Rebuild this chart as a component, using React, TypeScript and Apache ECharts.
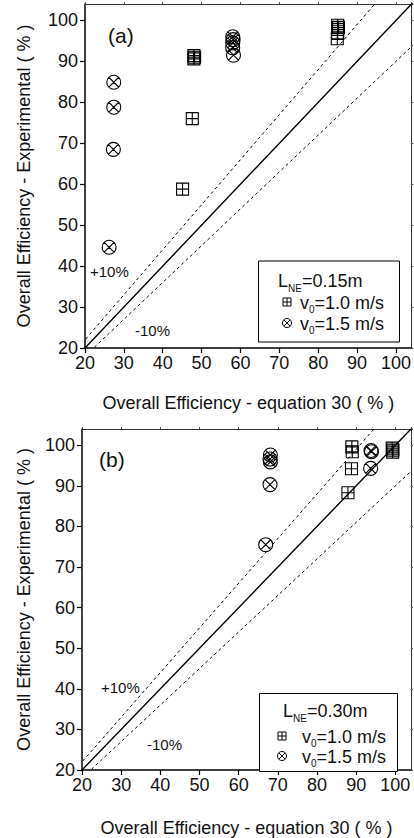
import React, { useEffect, useRef } from 'react';
import * as echarts from 'echarts';

// ---------- data ----------
const axisMin = 20;
const axisMax = 104;
const tickStep = 10;

// panel (a)  L_NE = 0.15 m
const squaresA: number[][] = [
  [45.1, 58.8], [47.6, 76.0], [48.0, 90.6], [48.2, 91.0], [48.0, 91.4],
  [85.0, 98.8], [85.2, 98.3], [85.0, 97.8], [85.0, 96.8], [84.9, 95.5],
];
const circlesA: number[][] = [
  [27.4, 84.9], [27.4, 78.8], [27.3, 68.5], [26.2, 44.6],
  [58.0, 96.0], [58.1, 95.3], [58.0, 94.5], [58.0, 93.3], [58.2, 91.5],
];
// panel (b)  L_NE = 0.30 m
const squaresB: number[][] = [
  [87.9, 88.3], [88.8, 94.2], [88.9, 99.6], [89.0, 98.4],
  [99.2, 99.3], [99.4, 98.8], [99.3, 98.3],
];
const circlesB: number[][] = [
  [66.9, 75.5], [68.0, 90.3], [68.1, 97.6], [68.0, 96.6], [68.1, 95.9],
  [93.8, 98.7], [93.9, 98.4], [93.7, 94.3],
];
// reference lines  y = k * x
const perfectLine: number[][] = [[0, 0], [120, 120]];
const plusTenLine: number[][] = [[0, 0], [120, 132]];
const minusTenLine: number[][] = [[0, 0], [120, 108]];

const panelLabels = ['(a)', '(b)'];
const legendTitles = ['=0.15m', '=0.30m'];
const legendNames = ['=1.0 m/s', '=1.5 m/s'];
const xTitle = 'Overall Efficiency - equation 30 ( % )';
const yTitle = 'Overall Efficiency - Experimental ( % )';

const FONT = '"Liberation Sans", Arial, Helvetica, sans-serif';
const INK = '#111';

const SQ_PATH = 'path://M0,0L10,0L10,10L0,10Z M5,0L5,10 M0,5L10,5';
const CX_PATH =
  'path://M10,5C10,7.76 7.76,10 5,10C2.24,10 0,7.76 0,5C0,2.24 2.24,0 5,0C7.76,0 10,2.24 10,5Z M1.46,1.46L8.54,8.54 M8.54,1.46L1.46,8.54';

const grids = [
  { left: 85, top: 4, width: 327, height: 344 },
  { left: 82, top: 429, width: 329, height: 347 },
];

let measureCtx: CanvasRenderingContext2D | null = null;
function textWidth(str: string, size: number) {
  if (!measureCtx) measureCtx = document.createElement('canvas').getContext('2d');
  if (!measureCtx) return str.length * size * 0.55;
  measureCtx.font = `${size}px ${FONT}`;
  return measureCtx.measureText(str).width;
}

function mainX(i: number, nameGap: number) {
  return {
    gridIndex: i, type: 'value', min: axisMin, max: axisMax, interval: tickStep,
    name: xTitle, nameLocation: 'middle', nameGap,
    nameTextStyle: { fontFamily: FONT, fontSize: 18, color: INK },
    axisLine: { show: true, lineStyle: { color: '#000', width: 1.5 } },
    axisTick: { show: true, length: 5, lineStyle: { color: '#000', width: 1.2 } },
    axisLabel: { fontFamily: FONT, fontSize: 18, color: INK, margin: 6 },
    splitLine: { show: false },
  };
}
function mainY(i: number, nameGap: number) {
  return {
    gridIndex: i, type: 'value', min: axisMin, max: axisMax, interval: tickStep,
    name: yTitle, nameLocation: 'middle', nameGap,
    nameTextStyle: { fontFamily: FONT, fontSize: 18, color: INK },
    axisLine: { show: true, lineStyle: { color: '#000', width: 1.5 } },
    axisTick: { show: true, length: 5, lineStyle: { color: '#000', width: 1.2 } },
    axisLabel: { fontFamily: FONT, fontSize: 18, color: INK, margin: 7 },
    splitLine: { show: false },
  };
}
function frameX(i: number) {
  return {
    gridIndex: i, type: 'value', position: 'top', min: axisMin, max: axisMax, interval: tickStep,
    axisLine: { show: true, onZero: false, lineStyle: { color: '#333', width: 1 } },
    axisTick: { show: true, inside: false, length: 2, lineStyle: { color: '#555' } },
    axisLabel: { show: false }, splitLine: { show: false },
  };
}
function frameY(i: number) {
  return {
    gridIndex: i, type: 'value', position: 'right', min: axisMin, max: axisMax, interval: tickStep,
    axisLine: { show: true, onZero: false, lineStyle: { color: '#333', width: 1 } },
    axisTick: { show: true, inside: false, length: 2, lineStyle: { color: '#555' } },
    axisLabel: { show: false }, splitLine: { show: false },
  };
}

function lineSeries(data: number[][], xi: number, yi: number, dashed: boolean) {
  return {
    type: 'line', xAxisIndex: xi, yAxisIndex: yi, data, clip: true, symbol: 'none', silent: true,
    lineStyle: dashed ? { color: '#000', width: 1, type: [3, 3] } : { color: '#000', width: 1.4 },
    z: 1,
  };
}
function scatterSeries(data: number[][], xi: number, yi: number, square: boolean) {
  return {
    type: 'scatter', xAxisIndex: xi, yAxisIndex: yi, data,
    symbol: square ? SQ_PATH : CX_PATH, symbolSize: square ? 12 : 14,
    itemStyle: { color: 'rgba(0,0,0,0)', borderColor: '#000', borderWidth: 1.1, opacity: 1 },
    z: 3,
  };
}

const LZ = 20;
function sqIcon(cx: number, cy: number, s: number) {
  const h = s / 2;
  return [
    { type: 'rect', z: LZ, shape: { x: cx - h, y: cy - h, width: s, height: s }, style: { fill: 'none', stroke: '#000', lineWidth: 1 } },
    { type: 'line', z: LZ, shape: { x1: cx, y1: cy - h, x2: cx, y2: cy + h }, style: { stroke: '#000', lineWidth: 1 } },
    { type: 'line', z: LZ, shape: { x1: cx - h, y1: cy, x2: cx + h, y2: cy }, style: { stroke: '#000', lineWidth: 1 } },
  ];
}
function cxIcon(cx: number, cy: number, s: number) {
  const r = s / 2;
  const d = r * 0.707;
  return [
    { type: 'circle', z: LZ, shape: { cx, cy, r }, style: { fill: 'none', stroke: '#000', lineWidth: 1 } },
    { type: 'line', z: LZ, shape: { x1: cx - d, y1: cy - d, x2: cx + d, y2: cy + d }, style: { stroke: '#000', lineWidth: 1 } },
    { type: 'line', z: LZ, shape: { x1: cx + d, y1: cy - d, x2: cx - d, y2: cy + d }, style: { stroke: '#000', lineWidth: 1 } },
  ];
}
function plainText(x: number, y: number, str: string, size: number, z = 5) {
  return {
    type: 'text', x, y, z,
    style: { text: str, fontFamily: FONT, fontSize: size, fill: INK, verticalAlign: 'middle', align: 'left' },
  };
}
// main symbol + subscript + rest
const MAIN = 18;
const SUB = 10;
function subText(x: number, y: number, head: string, sub: string, rest: string, drop: number) {
  const w1 = textWidth(head, MAIN);
  const w2 = textWidth(sub, SUB);
  return [
    plainText(x, y, head, MAIN, LZ),
    plainText(x + w1, y + drop, sub, SUB, LZ),
    plainText(x + w1 + w2, y, rest, MAIN, LZ),
  ];
}

type Leg = { box: number[]; lx: number; ly: number; ix: number; tx: number; r1: number; r2: number };
const legs: Leg[] = [
  { box: [258.5, 261, 141, 81], lx: 278, ly: 281, ix: 287, tx: 300, r1: 302, r2: 323 },
  { box: [259.5, 693.5, 138, 78], lx: 283, ly: 711, ix: 282, tx: 302, r1: 736, r2: 756 },
];

function legendGraphics(i: number) {
  const g = legs[i];
  return [
    { type: 'rect', z: LZ - 1, shape: { x: g.box[0], y: g.box[1], width: g.box[2], height: g.box[3] }, style: { fill: '#fff', stroke: '#000', lineWidth: 1 } },
    ...subText(g.lx, g.ly, 'L', 'NE', legendTitles[i], 7),
    ...sqIcon(g.ix, g.r1, 8),
    ...subText(g.tx, g.r1 + 1, 'v', '0', legendNames[0], 6),
    ...cxIcon(g.ix, g.r2, 9),
    ...subText(g.tx, g.r2 + 1, 'v', '0', legendNames[1], 6),
  ];
}

export default function App() {
  const ref = useRef<HTMLDivElement>(null);
  useEffect(() => {
    if (!ref.current) return;
    const chart = echarts.init(ref.current, undefined, { renderer: 'svg' });
    const option = {
      animation: false,
      backgroundColor: '#fff',
      grid: grids.map((g) => ({ ...g, containLabel: false })),
      xAxis: [mainX(0, 46), mainX(1, 49), frameX(0), frameX(1)],
      yAxis: [mainY(0, 52), mainY(1, 49), frameY(0), frameY(1)],
      series: [
        lineSeries(perfectLine, 0, 0, false),
        lineSeries(plusTenLine, 0, 0, true),
        lineSeries(minusTenLine, 0, 0, true),
        scatterSeries(squaresA, 0, 0, true),
        scatterSeries(circlesA, 0, 0, false),
        lineSeries(perfectLine, 1, 1, false),
        lineSeries(plusTenLine, 1, 1, true),
        lineSeries(minusTenLine, 1, 1, true),
        scatterSeries(squaresB, 1, 1, true),
        scatterSeries(circlesB, 1, 1, false),
      ],
      graphic: [
        plainText(108, 35, panelLabels[0], 21),
        plainText(90, 271, '+10%', 15),
        plainText(135, 330, '-10%', 15),
        ...legendGraphics(0),
        plainText(99, 459, panelLabels[1], 21),
        plainText(101, 687, '+10%', 15),
        plainText(147, 744, '-10%', 15),
        ...legendGraphics(1),
      ],
    };
    chart.setOption(option as any);
    return () => chart.dispose();
  }, []);
  return (
    <div
      ref={ref}
      style={{ position: 'absolute', left: 0, top: 0, width: 414, height: 838, background: '#fff' }}
    />
  );
}
